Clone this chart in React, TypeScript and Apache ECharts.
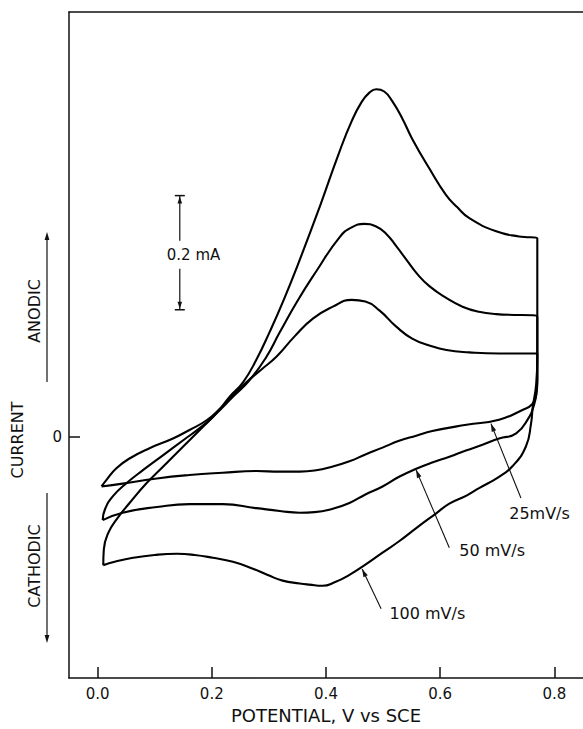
import React, { useEffect, useRef } from "react";
import * as echarts from "echarts";

// Potential (V vs SCE) and current (mA), one closed loop per scan rate.
const xTicks = [0, 0.2, 0.4, 0.6, 0.8];
const yTicks = [0];

const cv25: [number, number][] = [
  [0.007, -0.087], [0.016, -0.075], [0.033, -0.055], [0.056, -0.038], [0.091, -0.02],
  [0.132, -0.003], [0.161, 0.012], [0.191, 0.029], [0.214, 0.049], [0.237, 0.073],
  [0.261, 0.096], [0.287, 0.118], [0.314, 0.141], [0.345, 0.176], [0.377, 0.207],
  [0.412, 0.228], [0.445, 0.24], [0.469, 0.237], [0.494, 0.221], [0.523, 0.193],
  [0.551, 0.172], [0.581, 0.16], [0.611, 0.152], [0.651, 0.148], [0.703, 0.146],
  [0.77, 0.146], [0.77, 0.146], [0.77, 0.096], [0.768, 0.073], [0.761, 0.057],
  [0.744, 0.047], [0.703, 0.03], [0.646, 0.021], [0.586, 0.01], [0.558, 0.002],
  [0.528, -0.007], [0.499, -0.019], [0.469, -0.031], [0.441, -0.043], [0.412, -0.052],
  [0.38, -0.059], [0.354, -0.061], [0.319, -0.061], [0.278, -0.06], [0.219, -0.063],
  [0.161, -0.067], [0.104, -0.073], [0.044, -0.082], [0.007, -0.087],
];

const cv50: [number, number][] = [
  [0.009, -0.146], [0.013, -0.127], [0.027, -0.104], [0.051, -0.081], [0.08, -0.058],
  [0.115, -0.032], [0.15, -0.006], [0.185, 0.02], [0.208, 0.041], [0.237, 0.07],
  [0.266, 0.099], [0.295, 0.139], [0.319, 0.183], [0.35, 0.238], [0.383, 0.29],
  [0.424, 0.35], [0.445, 0.367], [0.467, 0.373], [0.487, 0.369], [0.506, 0.355],
  [0.523, 0.334], [0.541, 0.31], [0.56, 0.285], [0.581, 0.264], [0.611, 0.243],
  [0.639, 0.228], [0.668, 0.219], [0.698, 0.215], [0.77, 0.211], [0.77, 0.211],
  [0.77, 0.104], [0.768, 0.073], [0.763, 0.052], [0.756, 0.035], [0.733, 0.006],
  [0.703, -0.003], [0.674, -0.014], [0.645, -0.024], [0.616, -0.035], [0.586, -0.045],
  [0.558, -0.056], [0.528, -0.07], [0.499, -0.087], [0.469, -0.101], [0.441, -0.116],
  [0.412, -0.126], [0.38, -0.132], [0.354, -0.133], [0.319, -0.13], [0.278, -0.125],
  [0.219, -0.118], [0.161, -0.118], [0.104, -0.123], [0.044, -0.133], [0.009, -0.146],
];

const cv100: [number, number][] = [
  [0.01, -0.225], [0.011, -0.197], [0.019, -0.168], [0.033, -0.145], [0.056, -0.116],
  [0.086, -0.081], [0.115, -0.052], [0.15, -0.017], [0.179, 0.012], [0.208, 0.041],
  [0.231, 0.07], [0.255, 0.096], [0.278, 0.135], [0.301, 0.183], [0.326, 0.24],
  [0.354, 0.31], [0.389, 0.403], [0.423, 0.498], [0.445, 0.553], [0.462, 0.586],
  [0.476, 0.603], [0.488, 0.609], [0.502, 0.605], [0.516, 0.588], [0.534, 0.557],
  [0.551, 0.522], [0.581, 0.47], [0.61, 0.424], [0.63, 0.402], [0.651, 0.383],
  [0.698, 0.36], [0.738, 0.351], [0.77, 0.348], [0.77, 0.348], [0.77, 0.139],
  [0.768, 0.092], [0.762, 0.052], [0.759, 0.023], [0.75, -0.017], [0.726, -0.052],
  [0.703, -0.07], [0.668, -0.09], [0.646, -0.103], [0.616, -0.117], [0.593, -0.134],
  [0.558, -0.16], [0.528, -0.183], [0.499, -0.203], [0.469, -0.224], [0.441, -0.242],
  [0.415, -0.255], [0.394, -0.261], [0.371, -0.259], [0.354, -0.257], [0.324, -0.252],
  [0.298, -0.242], [0.272, -0.231], [0.237, -0.219], [0.202, -0.212], [0.17, -0.207],
  [0.139, -0.205], [0.1, -0.207], [0.062, -0.212], [0.03, -0.219], [0.01, -0.225],
];

const seriesNames = ["25 mV/s", "50 mV/s", "100 mV/s"];
const rateLabels = ["25mV/s", "50 mV/s", "100 mV/s"];
const scaleLabel = "0.2 mA";
const scaleSpan = 0.2;
const xName = "POTENTIAL, V vs SCE";
const sideLabels = ["ANODIC", "CURRENT", "CATHODIC"];

export default function App() {
  const ref = useRef<HTMLDivElement>(null);

  useEffect(() => {
    const chart = echarts.init(ref.current!, null, { renderer: "svg" });
    const ink = "#111";
    const font = "DejaVu Sans";
    const axisLine = { show: true, onZero: false, lineStyle: { color: ink, width: 1.5 } };

    chart.setOption({
      animation: false,
      backgroundColor: "#fff",
      grid: { left: 69, right: 0, top: 12, bottom: 46 },
      xAxis: [
        {
          type: "value",
          min: -0.05,
          max: 0.85,
          position: "bottom",
          axisLine,
          axisTick: { show: true, inside: true, length: 11, customValues: xTicks, lineStyle: { color: ink, width: 1.5 } },
          axisLabel: {
            customValues: xTicks,
            formatter: (v: number) => v.toFixed(1),
            color: ink,
            fontFamily: font,
            fontSize: 15,
            margin: 8,
          },
          splitLine: { show: false },
          name: xName,
          nameLocation: "middle",
          nameGap: 28,
          nameTextStyle: { color: ink, fontFamily: font, fontSize: 18 },
        },
        {
          type: "value",
          min: -0.05,
          max: 0.85,
          position: "top",
          axisLine,
          axisTick: { show: false },
          axisLabel: { show: false },
          splitLine: { show: false },
        },
      ],
      yAxis: {
        type: "value",
        min: -0.4226,
        max: 0.7443,
        axisLine,
        axisTick: { show: true, inside: true, length: 11, customValues: yTicks, lineStyle: { color: ink, width: 1.5 } },
        axisLabel: { customValues: yTicks, color: ink, fontFamily: font, fontSize: 15, margin: 7, formatter: (v: number) => String(v) },
        splitLine: { show: false },
      },
      series: [cv25, cv50, cv100].map((d, i) => ({
        name: seriesNames[i],
        type: "line",
        data: d,
        symbol: "none",
        showSymbol: false,
        smooth: 0.5,
        lineStyle: { color: "#000", width: 2.1 },
        silent: true,
      })),
    });

    const P = (x: number, y: number) => chart.convertToPixel({ xAxisIndex: 0, yAxisIndex: 0 }, [x, y]) as number[];

    const head = (tip: number[], from: number[], len = 8, hw = 2.6) => {
      const dx = tip[0] - from[0];
      const dy = tip[1] - from[1];
      const L = Math.hypot(dx, dy) || 1;
      const ux = dx / L, uy = dy / L;
      const bx = tip[0] - ux * len, by = tip[1] - uy * len;
      return {
        type: "polygon",
        shape: { points: [tip, [bx - uy * hw, by + ux * hw], [bx + uy * hw, by - ux * hw]] },
        style: { fill: ink },
        silent: true,
      };
    };
    const seg = (a: number[], b: number[], w = 1.2) => ({
      type: "line",
      shape: { x1: a[0], y1: a[1], x2: b[0], y2: b[1] },
      style: { stroke: ink, lineWidth: w },
      silent: true,
    });
    const txt = (x: number, y: number, text: string, size: number, align = "left", rotation = 0) => ({
      type: "text",
      x,
      y,
      rotation,
      style: { text, fill: ink, font: `${size}px "${font}"`, align, verticalAlign: "middle" },
      silent: true,
    });

    const g: any[] = [];

    // scale bar 0.2 mA
    const sbX = 0.144, sbY0 = 0.2226;
    const sTop = P(sbX, sbY0 + scaleSpan);
    const sBot = P(sbX, sbY0);
    const sMid = (sTop[1] + sBot[1]) / 2 + 2;
    g.push(seg(sTop, [sTop[0], sMid - 14]));
    g.push(seg([sBot[0], sMid + 14], sBot));
    g.push(seg([sTop[0] - 5, sTop[1]], [sTop[0] + 5, sTop[1]], 1.5));
    g.push(seg([sBot[0] - 5, sBot[1]], [sBot[0] + 5, sBot[1]], 1.5));
    g.push(head([sTop[0], sTop[1] + 1], [sTop[0], sTop[1] + 20], 7, 2.3));
    g.push(head([sBot[0], sBot[1] - 1], [sBot[0], sBot[1] - 20], 7, 2.3));
    g.push(txt(sTop[0] - 13, sMid, scaleLabel, 15));

    // scan-rate labels with arrows to the cathodic branches
    const rateAnno = [
      { at: [0.7208, -0.1339], from: [0.7413, -0.1073], tip: [0.6888, 0.0231] },
      { at: [0.6334, -0.2], from: [0.6159, -0.1943], tip: [0.5577, -0.0579] },
      { at: [0.511, -0.3096], from: [0.4965, -0.3014], tip: [0.4633, -0.2318] },
    ];
    rateAnno.forEach((a, i) => {
      const at = P(a.at[0], a.at[1]);
      const fr = P(a.from[0], a.from[1]);
      const tp = P(a.tip[0], a.tip[1]);
      g.push(seg(fr, tp, 1.1));
      g.push(head(tp, fr, 8, 2.4));
      g.push(txt(at[0], at[1], rateLabels[i], 16));
    });

    // left side: ANODIC / CURRENT / CATHODIC with arrows
    const rot = Math.PI / 2;
    g.push(txt(34, 311, sideLabels[0], 16, "center", rot));
    g.push(txt(17, 440, sideLabels[1], 16, "center", rot));
    g.push(txt(34, 566, sideLabels[2], 16, "center", rot));
    g.push(seg([47, 382], [47, 236], 1.2));
    g.push(head([47, 232], [47, 260], 8, 2.4));
    g.push(seg([47, 493], [47, 639], 1.2));
    g.push(head([47, 643], [47, 620], 8, 2.4));

    chart.setOption({ graphic: g });

    return () => chart.dispose();
  }, []);

  return (
    <div
      ref={ref}
      style={{ position: "absolute", left: 0, top: 0, width: 583, height: 729, background: "#fff" }}
    />
  );
}
